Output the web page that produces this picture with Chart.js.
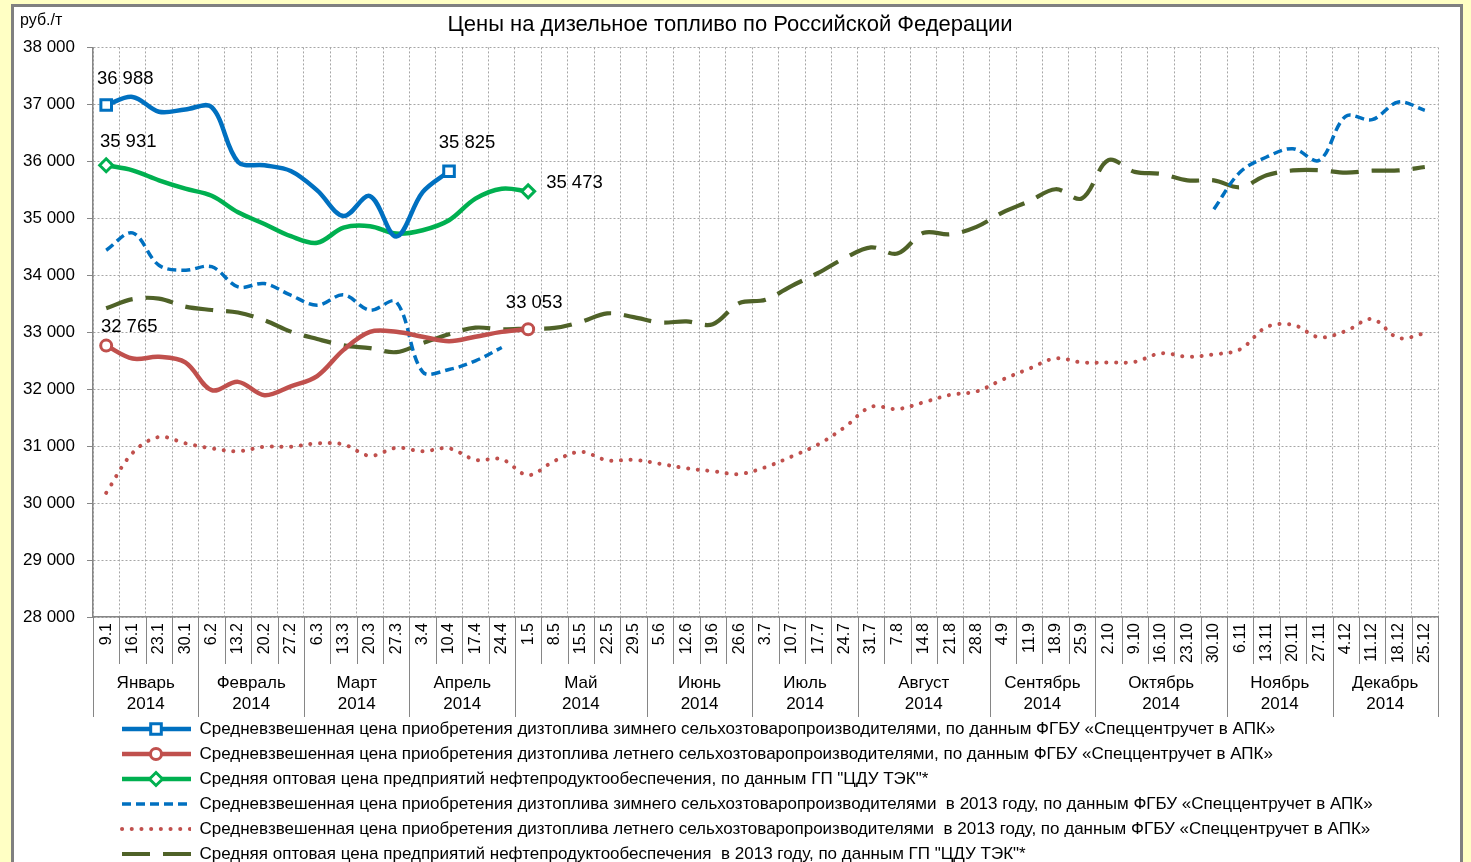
<!DOCTYPE html>
<html lang="ru">
<head>
<meta charset="utf-8">
<title>Цены на дизельное топливо</title>
<script src="https://cdn.jsdelivr.net/npm/chart.js@4.4.1/dist/chart.umd.min.js"></script>
<style>
  html, body { margin: 0; padding: 0; width: 1471px; height: 862px; overflow: hidden; background: #FFFFC4; }
  #frame { position: absolute; left: 11px; top: 4px; width: 1446px; height: 950px; border: 3px solid #808080; background: #fff; }
  #wrap { position: absolute; left: 0; top: 0; width: 1471px; height: 900px; }
</style>
</head>
<body>
<div id="frame"></div>
<div id="wrap"><canvas id="dieselChart" width="1471" height="900"></canvas></div>
<script>
// Weekly dates (day.month) for 2014
const weeks = ['9.1','16.1','23.1','30.1','6.2','13.2','20.2','27.2','6.3','13.3','20.3','27.3',
  '3.4','10.4','17.4','24.4','1.5','8.5','15.5','22.5','29.5','5.6','12.6','19.6','26.6',
  '3.7','10.7','17.7','24.7','31.7','7.8','14.8','21.8','28.8','4.9','11.9','18.9','25.9',
  '2.10','9.10','16.10','23.10','30.10','6.11','13.11','20.11','27.11','4.12','11.12','18.12','25.12'];
const months = ['Январь','Февраль','Март','Апрель','Май','Июнь','Июль','Август','Сентябрь','Октябрь','Ноябрь','Декабрь'];
const monthWeeks = [4, 4, 4, 4, 5, 4, 4, 5, 4, 5, 4, 4];
const year = '2014';

// 2014, руб./т
const winter2014 = [36988, 37130, 36870, 36910, 36950, 35990, 35930, 35830, 35490, 35040, 35390, 34680, 35460, 35825];
const summer2014 = [32765, 32538, 32567, 32470, 31982, 32128, 31895, 32050, 32230, 32690, 33006, 33006, 32920, 32842, 32920, 33006, 33053];
const wholesale2014 = [35931, 35842, 35667, 35520, 35395, 35105, 34900, 34685, 34570, 34836, 34860, 34731, 34790, 34965, 35345, 35520, 35473];

// 2013, руб./т (gap in summer for winter fuel)
const winter2013 = [34439, 34743, 34175, 34088, 34150, 33795, 33854, 33649, 33474, 33655, 33386, 33532, 32304, 32345, 32497, 32731,
  null, null, null, null, null, null, null, null, null, null, null, null, null, null, null, null, null,
  null, null, null, null, null, null, null, null, null,
  35158, 35813, 36076, 36222, 36018, 36789, 36731, 37041, 36895];
const summer2013 = [30180, 30880, 31160, 31050, 30960, 30910, 30990, 30990, 31050, 31030, 30830, 30970, 30910, 30960, 30760, 30770,
  30490, 30740, 30900, 30750, 30760, 30690, 30610, 30560, 30510, 30630, 30820, 31030, 31330, 31690, 31650, 31770, 31900, 31960,
  32170, 32360, 32540, 32470, 32470, 32480, 32630, 32570, 32610, 32700, 33090, 33130, 32910, 33020, 33230, 32900, 32980];
const wholesale2013 = [33420, 33580, 33590, 33450, 33390, 33345, 33210, 33010, 32880, 32770, 32720, 32650, 32810, 32965, 33080, 33050,
  33065, 33075, 33180, 33330, 33265, 33170, 33190, 33140, 33510, 33570, 33815, 34040, 34300, 34490, 34380, 34745, 34720, 34850,
  35105, 35300, 35510, 35350, 36020, 35815, 35780, 35665, 35665, 35545, 35755, 35840, 35845, 35800, 35835, 35840, 35900];

const seriesNames = [
  'Средневзвешенная цена приобретения дизтоплива зимнего сельхозтоваропроизводителями, по данным ФГБУ «Спеццентручет в АПК»',
  'Средневзвешенная цена приобретения дизтоплива летнего сельхозтоваропроизводителями, по данным ФГБУ «Спеццентручет в АПК»',
  'Средняя оптовая цена предприятий нефтепродуктообеспечения, по данным ГП "ЦДУ ТЭК"*',
  'Средневзвешенная цена приобретения дизтоплива зимнего сельхозтоваропроизводителями  в 2013 году, по данным ФГБУ «Спеццентручет в АПК»',
  'Средневзвешенная цена приобретения дизтоплива летнего сельхозтоваропроизводителями  в 2013 году, по данным ФГБУ «Спеццентручет в АПК»',
  'Средняя оптовая цена предприятий нефтепродуктообеспечения  в 2013 году, по данным ГП "ЦДУ ТЭК"*'
];

const FONT = '"Liberation Sans", Arial, sans-serif';
const BLUE = '#0070C0', RED = '#C0504D', GREEN = '#00B050', OLIVE = '#4F6228';
const AXIS = '#868686', GRID = '#A6A6A6';

function fmt(v) {
  return String(Math.round(v)).replace(/\B(?=(\d{3})+(?!\d))/g, ' ');
}

// hollow marker path, same shapes as on the lines
function markerPath(g, shape, x, y, r) {
  g.beginPath();
  if (shape === 'rect') {
    const s = r * Math.SQRT1_2;
    g.rect(x - s, y - s, 2 * s, 2 * s);
  } else if (shape === 'circle') {
    g.arc(x, y, r, 0, Math.PI * 2);
  } else {
    g.moveTo(x - r, y); g.lineTo(x, y - r); g.lineTo(x + r, y); g.lineTo(x, y + r); g.closePath();
  }
}

// legend sample: line with an optional marker in the middle
function makeSample(color, width, dash, cap, marker, r) {
  const c = document.createElement('canvas');
  c.width = 90; c.height = 20;
  const g = c.getContext('2d');
  g.strokeStyle = color;
  g.lineWidth = width;
  g.lineCap = cap;
  g.setLineDash(dash);
  g.beginPath(); g.moveTo(21, 10); g.lineTo(90, 10); g.stroke();
  if (marker) {
    g.setLineDash([]);
    g.lineWidth = 3;
    g.fillStyle = '#fff';
    markerPath(g, marker, 55, 10, r);
    g.fill(); g.stroke();
  }
  return c;
}

const samples = [
  makeSample(BLUE, 4.5, [], 'butt', 'rect', 7.5),
  makeSample(RED, 4.5, [], 'butt', 'circle', 5.5),
  makeSample(GREEN, 4.5, [], 'butt', 'rectRot', 6.5),
  makeSample(BLUE, 3.5, [9, 5], 'butt', null),
  makeSample(RED, 4, [0.1, 9.6], 'round', null),
  makeSample(OLIVE, 4, [28, 13], 'butt', null)
];

// markers only on the first and last point of a series
function endRadius(r) {
  return function(ctx) {
    const data = ctx.dataset.data;
    return (ctx.dataIndex === 0 || ctx.dataIndex === data.length - 1) ? r : 0;
  };
}

// value labels: [dataset, which end, dx, dy, align]
const labelSpots = [
  [0, 'first', 19, -26, 'center'], [0, 'last', 18, -28, 'center'],
  [1, 'first', 23, -19, 'center'], [1, 'last', 6, -26, 'center'],
  [2, 'first', 22, -23, 'center'], [2, 'last', 18, -8, 'left']
];

const extrasPlugin = {
  id: 'extras',
  afterDatasetsDraw(chart) {
    const ctx = chart.ctx;
    ctx.save();
    ctx.font = '18.5px ' + FONT;
    ctx.fillStyle = '#000';
    ctx.textBaseline = 'middle';
    labelSpots.forEach(([di, end, dx, dy, align]) => {
      const data = chart.data.datasets[di].data;
      const idx = end === 'first' ? 0 : data.length - 1;
      const pt = chart.getDatasetMeta(di).data[idx];
      ctx.textAlign = align;
      ctx.fillText(fmt(data[idx]), pt.x + dx, pt.y + dy);
    });
    ctx.restore();
  },
  afterDraw(chart) {
    const ctx = chart.ctx;
    const xs = chart.scales.x;
    const top = xs.top;
    ctx.save();

    // units caption
    ctx.font = '16px ' + FONT;
    ctx.fillStyle = '#000';
    ctx.textAlign = 'left';
    ctx.textBaseline = 'middle';
    ctx.fillText('руб./т', 20, 21);

    // separators between weeks and between months
    const monthStarts = [0];
    monthWeeks.forEach(n => monthStarts.push(monthStarts[monthStarts.length - 1] + n));
    ctx.strokeStyle = AXIS;
    ctx.lineWidth = 1;
    for (let k = 0; k <= weeks.length; k++) {
      const x = Math.round(xs.getPixelForValue(k - 0.5)) + 0.5;
      const long = monthStarts.includes(k);
      ctx.beginPath();
      ctx.moveTo(x, top);
      ctx.lineTo(x, top + (long ? 100 : 47));
      ctx.stroke();
    }

    // month names under the week labels
    ctx.font = '17px ' + FONT;
    ctx.textAlign = 'center';
    months.forEach((m, i) => {
      const x0 = xs.getPixelForValue(monthStarts[i] - 0.5);
      const x1 = xs.getPixelForValue(monthStarts[i + 1] - 0.5);
      const cx = (x0 + x1) / 2;
      ctx.fillText(m, cx, top + 66);
      ctx.fillText(year, cx, top + 87);
    });
    ctx.restore();
  }
};

const ctx = document.getElementById('dieselChart').getContext('2d');
Chart.defaults.font.family = FONT;
Chart.defaults.color = '#000';

const chart = new Chart(ctx, {
  type: 'line',
  data: {
    labels: weeks,
    datasets: [
      {
        label: seriesNames[0], data: winter2014,
        borderColor: BLUE, borderWidth: 4.5, tension: 0.35,
        pointStyle: 'rect', pointRadius: endRadius(7.5), pointBorderWidth: 3,
        pointBackgroundColor: '#fff', pointBorderColor: BLUE
      },
      {
        label: seriesNames[1], data: summer2014,
        borderColor: RED, borderWidth: 4.5, tension: 0.35,
        pointStyle: 'circle', pointRadius: endRadius(5.5), pointBorderWidth: 3,
        pointBackgroundColor: '#fff', pointBorderColor: RED
      },
      {
        label: seriesNames[2], data: wholesale2014,
        borderColor: GREEN, borderWidth: 4.5, tension: 0.35,
        pointStyle: 'rectRot', pointRadius: endRadius(6.5), pointBorderWidth: 3,
        pointBackgroundColor: '#fff', pointBorderColor: GREEN
      },
      {
        label: seriesNames[3], data: winter2013,
        borderColor: BLUE, borderWidth: 3.5, borderDash: [9, 5], tension: 0.35,
        pointRadius: 0
      },
      {
        label: seriesNames[4], data: summer2013,
        borderColor: RED, borderWidth: 4, borderDash: [0.1, 9.6], borderCapStyle: 'round', tension: 0.35,
        pointRadius: 0
      },
      {
        label: seriesNames[5], data: wholesale2013,
        borderColor: OLIVE, borderWidth: 4.2, borderDash: [28, 13], tension: 0.35,
        pointRadius: 0
      }
    ]
  },
  options: {
    responsive: false,
    animation: false,
    events: [],
    layout: { padding: { left: 22, right: 33, top: 8, bottom: 27.5 } },
    plugins: {
      title: {
        display: true,
        text: 'Цены на дизельное топливо по Российской Федерации',
        color: '#000',
        font: { size: 22, weight: 'normal' },
        padding: { top: 4, bottom: 9 }
      },
      legend: {
        position: 'bottom',
        align: 'start',
        fullSize: false,
        labels: {
          usePointStyle: true,
          pointStyleWidth: 90,
          padding: 8,
          color: '#000',
          font: { size: 17 },
          generateLabels: (c) => c.data.datasets.map((ds, i) => ({
            text: ds.label,
            pointStyle: samples[i],
            fontColor: '#000',
            hidden: false,
            datasetIndex: i,
            lineWidth: 0
          }))
        }
      },
      tooltip: { enabled: false }
    },
    scales: {
      x: {
        offset: true,
        grid: { color: GRID, lineWidth: 1, drawTicks: false, offset: true },
        border: { color: AXIS, width: 1.5, dash: [2, 2] },
        ticks: { autoSkip: false, maxRotation: 90, minRotation: 90, padding: 6, font: { size: 16 }, color: '#000' },
        afterFit: (s) => { s.height = 95.5; }
      },
      y: {
        min: 28000,
        max: 38000,
        grid: { color: GRID, lineWidth: 1, tickLength: 6, tickColor: AXIS, tickBorderDash: [] },
        border: { color: AXIS, width: 1.5, dash: [2, 2] },
        ticks: { stepSize: 1000, padding: 12, font: { size: 17 }, color: '#000', callback: (v) => fmt(v) },
        afterFit: (s) => { s.width = 71; }
      }
    }
  },
  plugins: [extrasPlugin]
});
</script>
</body>
</html>
